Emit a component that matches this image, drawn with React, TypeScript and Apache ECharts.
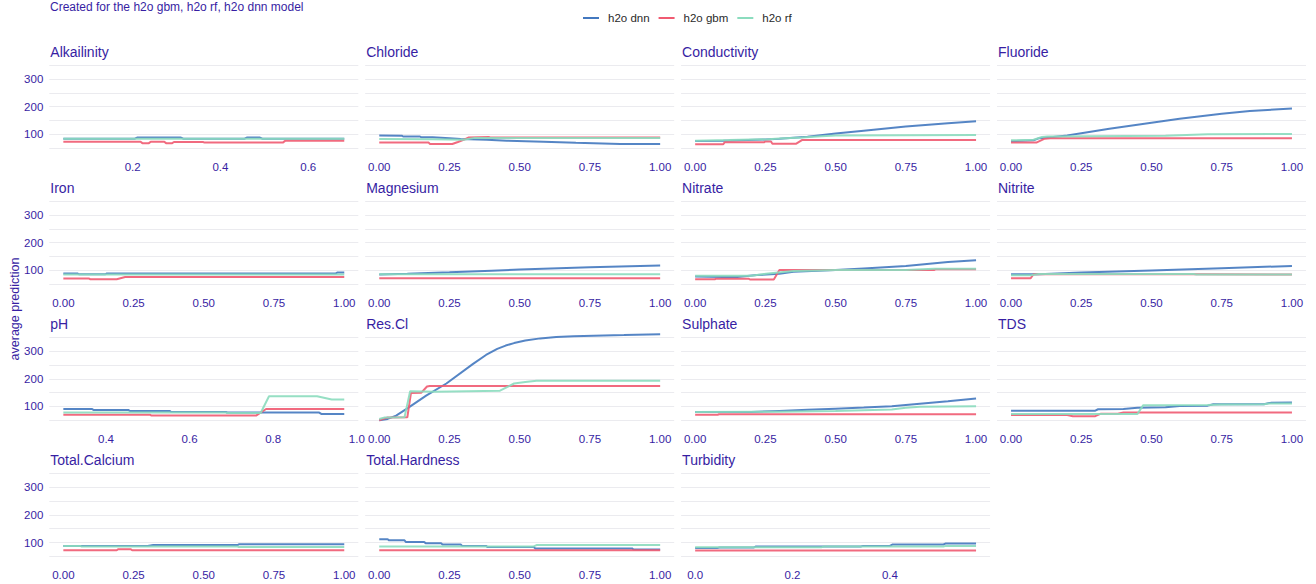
import React, { useEffect, useRef } from "react";
import * as echarts from "echarts";

// ---------- data ----------
const models = ["h2o dnn", "h2o gbm", "h2o rf"];
const modelColors = ["#4378bf", "#f05a71", "#8bdcbe"];
const variables = ["Alkailinity", "Chloride", "Conductivity", "Fluoride", "Iron", "Magnesium", "Nitrate", "Nitrite", "pH", "Res.Cl", "Sulphate", "TDS", "Total.Calcium", "Total.Hardness", "Turbidity"];

const yTickLabels = [100, 200, 300];
const yGridValues = [50, 100, 150, 200, 250, 300, 350];
const ticks01 = [0, 0.25, 0.5, 0.75, 1];
const ticksAlk = [0.2, 0.4, 0.6];
const ticksPh = [0.4, 0.6, 0.8, 1.0];
const ticksTur = [0, 0.2, 0.4];

const alkDnn = [[0.042, 84], [0.205, 84], [0.21, 88], [0.31, 88], [0.315, 84], [0.455, 84], [0.46, 88], [0.49, 88], [0.495, 84], [0.682, 84]];
const alkGbm = [[0.042, 73], [0.218, 73], [0.222, 68], [0.237, 68], [0.241, 73], [0.272, 73], [0.276, 68], [0.29, 68], [0.294, 72], [0.36, 72], [0.364, 70], [0.542, 70], [0.548, 77], [0.682, 77]];
const alkRf = [[0.042, 84], [0.682, 84]];

const chlDnn = [[0, 96], [0.08, 95], [0.085, 92], [0.145, 92], [0.15, 89], [0.19, 89], [0.25, 86], [0.29, 83], [0.383, 80], [0.454, 77], [0.585, 73], [0.7, 69], [0.858, 65], [1, 65]];
const chlGbm = [[0, 70], [0.176, 70], [0.18, 65], [0.26, 65], [0.28, 72], [0.3, 80], [0.317, 88], [0.39, 90], [0.395, 88], [1, 88]];
const chlRf = [[0, 83], [0.19, 82], [0.3, 80], [0.34, 87], [1, 87]];

const conDnn = [[0, 76], [0.1, 77], [0.25, 81], [0.3, 84], [0.4, 91], [0.5, 103], [0.6, 113], [0.75, 128], [0.9, 140], [1, 147]];
const conGbm = [[0, 64], [0.1, 64], [0.105, 71], [0.245, 71], [0.25, 74], [0.27, 74], [0.275, 66], [0.36, 66], [0.38, 79], [1, 79]];
const conRf = [[0, 77], [0.12, 79], [0.26, 82], [0.3, 85], [0.38, 88], [0.45, 93], [0.5, 96], [1, 97]];

const fluDnn = [[0, 75], [0.08, 78], [0.1, 86], [0.15, 90], [0.2, 96], [0.25, 104], [0.35, 120], [0.5, 142], [0.6, 156], [0.75, 174], [0.85, 184], [1, 193]];
const fluGbm = [[0, 70], [0.09, 70], [0.12, 84], [0.14, 86], [1, 86]];
const fluRf = [[0, 78], [0.08, 80], [0.11, 90], [0.13, 92], [0.55, 95], [0.7, 100], [1, 101]];

const ironDnn = [[0, 89], [0.05, 89], [0.055, 86], [0.15, 86], [0.155, 89], [0.97, 89], [0.975, 92], [1, 92]];
const ironGbm = [[0, 71], [0.09, 71], [0.095, 68], [0.19, 68], [0.22, 76], [1, 76]];
const ironRf = [[0, 85], [1, 85]];

const magDnn = [[0, 85], [0.1, 88], [0.25, 93], [0.4, 99], [0.5, 103], [0.75, 111], [1, 118]];
const magGbm = [[0, 72], [1, 72]];
const magRf = [[0, 86], [1, 86]];

const ntaDnn = [[0, 78], [0.1, 76], [0.15, 76], [0.22, 83], [0.3, 88], [0.35, 95], [0.5, 101], [0.6, 107], [0.75, 116], [0.9, 130], [1, 137]];
const ntaGbm = [[0, 68], [0.07, 68], [0.075, 70], [0.19, 70], [0.195, 67], [0.28, 67], [0.3, 101], [0.85, 101], [0.855, 104], [1, 104]];
const ntaRf = [[0, 81], [0.2, 81], [0.26, 89], [0.35, 98], [0.5, 101], [0.75, 101], [0.85, 106], [1, 106]];

const ntiDnn = [[0, 86], [0.1, 86], [0.25, 92], [0.5, 100], [0.75, 108], [1, 116]];
const ntiGbm = [[0, 72], [0.07, 72], [0.08, 86], [0.65, 86], [1, 85]];
const ntiRf = [[0, 82], [0.07, 82], [0.1, 87], [0.65, 87], [0.66, 85], [1, 85]];

const phDnn = [[0.298, 91], [0.366, 91], [0.37, 87.5], [0.453, 87.5], [0.457, 84], [0.552, 84], [0.556, 80], [0.687, 80], [0.69, 78], [0.91, 78], [0.915, 73], [0.97, 73]];
const phGbm = [[0.298, 70.5], [0.505, 70.5], [0.509, 67], [0.759, 67], [0.783, 91], [0.97, 91]];
const phRf = [[0.298, 78], [0.687, 78], [0.69, 76.5], [0.77, 76.5], [0.79, 137], [0.905, 137], [0.94, 125], [0.97, 125]];

const rclDnn = [[0, 50], [0.03, 55], [0.06, 67], [0.1, 93], [0.167, 139], [0.239, 183], [0.334, 254], [0.38, 286], [0.42, 308], [0.45, 320], [0.48, 329], [0.52, 338], [0.573, 346], [0.63, 351], [0.692, 354], [0.871, 358], [1, 361]];
const rclGbm = [[0, 50], [0.02, 57], [0.03, 60], [0.1, 61], [0.113, 149], [0.15, 150], [0.17, 172], [0.18, 174], [1, 174]];
const rclRf = [[0, 55], [0.02, 60], [0.09, 61], [0.11, 155], [0.2, 153], [0.43, 157], [0.48, 183], [0.52, 188], [0.56, 193], [1, 193]];

const sulDnn = [[0, 80], [0.2, 80], [0.3, 84], [0.4, 88], [0.5, 92], [0.6, 96], [0.7, 101], [0.8, 110], [0.9, 119], [1, 129]];
const sulGbm = [[0, 70], [0.08, 70], [0.085, 72], [1, 72]];
const sulRf = [[0, 80], [0.3, 81], [0.5, 84], [0.7, 89], [0.75, 95], [0.8, 99], [1, 101]];

const tdsDnn = [[0, 85], [0.3, 85], [0.31, 90], [0.4, 91], [0.45, 95], [0.55, 97], [0.6, 102], [0.7, 103], [0.72, 108], [0.9, 108], [0.92, 113], [1, 114]];
const tdsGbm = [[0, 69], [0.2, 69], [0.22, 65], [0.3, 65], [0.32, 74], [0.38, 74], [0.4, 78], [1, 78]];
const tdsRf = [[0, 73], [0.45, 73], [0.47, 104], [0.7, 105], [0.75, 107], [0.9, 108], [0.92, 111], [1, 111]];

const tcaDnn = [[0, 88], [0.3, 88], [0.32, 91], [0.62, 91], [0.625, 94], [1, 94]];
const tcaGbm = [[0, 72], [0.19, 72], [0.195, 76], [0.24, 76], [0.245, 72], [1, 72]];
const tcaRf = [[0, 88], [0.06, 88], [0.065, 86], [0.62, 86], [0.625, 84], [1, 84]];

const thdDnn = [[0, 112], [0.03, 112], [0.035, 108], [0.09, 108], [0.095, 102], [0.16, 102], [0.165, 98], [0.22, 98], [0.225, 93], [0.29, 93], [0.295, 88], [0.38, 88], [0.385, 84], [0.55, 84], [0.555, 79], [0.9, 79], [0.905, 75], [1, 75]];
const thdGbm = [[0, 72], [1, 72]];
const thdRf = [[0, 86], [0.55, 86], [0.56, 91], [1, 91]];

const turDnn = [[0, 80], [0.045, 80], [0.05, 82], [0.12, 82], [0.125, 86], [0.34, 86], [0.345, 88], [0.4, 88], [0.405, 93], [0.51, 93], [0.515, 97], [0.577, 97]];
const turGbm = [[0, 71.5], [0.577, 71.5]];
const turRf = [[0, 83.5], [0.26, 83.5], [0.265, 86], [0.51, 86], [0.515, 88], [0.577, 88]];

const seriesByVar = [
  [alkDnn, alkGbm, alkRf], [chlDnn, chlGbm, chlRf], [conDnn, conGbm, conRf], [fluDnn, fluGbm, fluRf],
  [ironDnn, ironGbm, ironRf], [magDnn, magGbm, magRf], [ntaDnn, ntaGbm, ntaRf], [ntiDnn, ntiGbm, ntiRf],
  [phDnn, phGbm, phRf], [rclDnn, rclGbm, rclRf], [sulDnn, sulGbm, sulRf], [tdsDnn, tdsGbm, tdsRf],
  [tcaDnn, tcaGbm, tcaRf], [thdDnn, thdGbm, thdRf], [turDnn, turGbm, turRf],
];
const ticksByVar = [ticksAlk, ticks01, ticks01, ticks01, ticks01, ticks01, ticks01, ticks01, ticksPh, ticks01, ticks01, ticks01, ticks01, ticks01, ticksTur];
const decimalsByVar = [1, 2, 2, 2, 2, 2, 2, 2, 1, 2, 2, 2, 2, 2, 1];

const subtitle = "Created for the h2o gbm, h2o rf, h2o dnn model";
const yTitle = "average prediction";

// ---------- style / layout ----------
const FONT = '"Liberation Sans", Arial, Helvetica, sans-serif';
const TEXT = "#371ea3";
const GRID = "#ebebef";
const Y_MIN = 32;
const Y_MAX = 377;
const PANEL_LEFT0 = 49.3;
const PANEL_DX = 315.9;
const PANEL_W = 309;
const PANEL_TOP0 = 57.6;
const PANEL_DY = 136.1;
const PANEL_H = 95.5;

function buildOption() {
  const grid: any[] = [];
  const xAxis: any[] = [];
  const yAxis: any[] = [];
  const series: any[] = [];
  const graphic: any[] = [];

  variables.forEach((name, i) => {
    const row = Math.floor(i / 4);
    const col = i % 4;
    const left = PANEL_LEFT0 + col * PANEL_DX;
    const top = PANEL_TOP0 + row * PANEL_DY;
    grid.push({ left, top, width: PANEL_W, height: PANEL_H, containLabel: false });

    const all = seriesByVar[i];
    let xmin = Infinity, xmax = -Infinity;
    all.forEach((s) => s.forEach((p) => { xmin = Math.min(xmin, p[0]); xmax = Math.max(xmax, p[0]); }));
    const pad = (xmax - xmin) * 0.05;
    const dec = decimalsByVar[i];

    xAxis.push({
      type: "value", gridIndex: i, min: xmin - pad, max: xmax + pad,
      axisLine: { show: false }, axisTick: { show: false }, splitLine: { show: false },
      axisLabel: {
        customValues: ticksByVar[i], formatter: (v: number) => v.toFixed(dec),
        color: TEXT, fontSize: 11.5, fontFamily: FONT, margin: 7.5,
      },
    });
    yAxis.push({
      type: "value", gridIndex: i, min: Y_MIN, max: Y_MAX,
      axisLine: { show: false },
      axisTick: { show: false, customValues: yGridValues },
      splitLine: { show: true, lineStyle: { color: GRID, width: 1 } },
      axisLabel: col === 0
        ? { customValues: yTickLabels, color: TEXT, fontSize: 11.5, fontFamily: FONT, margin: 6 }
        : { show: false },
    });

    all.forEach((data, m) => {
      series.push({
        type: "line", name: models[m], xAxisIndex: i, yAxisIndex: i, data,
        showSymbol: false, symbol: "none", silent: true, color: modelColors[m],
        itemStyle: { color: modelColors[m] },
        lineStyle: { color: modelColors[m], width: 2, opacity: 0.9 },
        z: 2 + m,
      });
    });

    const y350 = top + ((Y_MAX - 350) / (Y_MAX - Y_MIN)) * PANEL_H;
    graphic.push({
      type: "text", x: left + 1, y: y350 - 13,
      style: { text: name, fill: TEXT, font: `14px ${FONT}`, verticalAlign: "middle", align: "left" },
    });
  });

  graphic.push({
    type: "text", x: 50, y: 7,
    style: { text: subtitle, fill: TEXT, font: `12px ${FONT}`, verticalAlign: "middle", align: "left" },
  });
  graphic.push({
    type: "text", x: 15, y: 309, rotation: Math.PI / 2,
    style: { text: yTitle, fill: TEXT, font: `12.5px ${FONT}`, verticalAlign: "middle", align: "center" },
  });

  return {
    animation: false,
    backgroundColor: "#ffffff",
    legend: {
      data: models, left: 578, top: 7, itemWidth: 16, itemHeight: 2, icon: "rect", itemGap: 9,
      textStyle: { fontSize: 11.5, color: "#2a2a2a", fontFamily: FONT, padding: [0, 0, 0, 4] },
      selectedMode: false,
    },
    grid, xAxis, yAxis, series, graphic,
  };
}

export default function App() {
  const ref = useRef<HTMLDivElement>(null);
  useEffect(() => {
    if (!ref.current) return;
    const chart = echarts.init(ref.current, undefined, { renderer: "svg" });
    chart.setOption(buildOption() as any);
    return () => chart.dispose();
  }, []);
  return <div ref={ref} style={{ position: "absolute", left: 0, top: 0, width: 1316, height: 584 }} />;
}
